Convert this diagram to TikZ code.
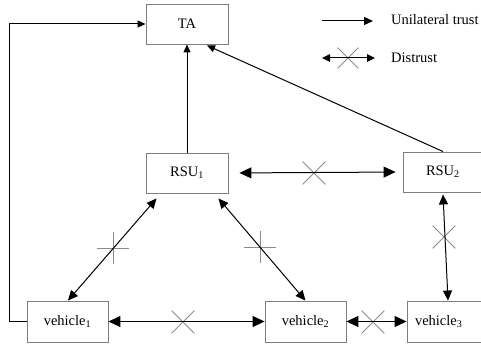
\documentclass[tikz,border=0pt]{standalone}
\usepackage{fontspec}
\setmainfont{Liberation Serif}
\usetikzlibrary{arrows.meta,shapes.misc,calc}
\definecolor{boxgray}{RGB}{125,125,125}
\definecolor{markgray}{RGB}{140,140,140}
\begin{document}
\begin{tikzpicture}[x=1pt,y=-1pt,
  lbl/.style={font=\fontsize{14.5}{17}\selectfont},
  box/.style={lbl, draw=boxgray, line width=0.9pt, minimum width=82pt,
    minimum height=40pt, inner sep=0pt},
  trust/.style={line width=1pt, -{Triangle[length=8pt,width=7pt]}},
  both/.style={line width=1pt, {Triangle[length=12pt,width=11pt]}-{Triangle[length=12pt,width=11pt]}},
  bothsm/.style={line width=1pt, {Triangle[length=8pt,width=7.5pt]}-{Triangle[length=8pt,width=7.5pt]}},
  xmark/.style={cross out, draw=markgray, line width=0.8pt, minimum size=22pt, inner sep=0pt},
  pmark/.style={xmark, rotate=45}]
\useasboundingbox (0,0) rectangle (481,347);
\clip (0,0) rectangle (481,347);

% entities
\node[box] (ta) at (187,24) {TA};
\node[box] (rsu1) at (187,173) {RSU\textsubscript{1}};
\node[box, minimum width=80pt, text width=34pt, inner xsep=23pt, align=left] (rsu2) at (443,172) {RSU\textsubscript{2}};
\node[box, minimum width=81pt, minimum height=41pt] (v1) at (67.5,321.5) {vehicle\textsubscript{1}};
\node[box, minimum width=81pt, minimum height=41pt] (v2) at (305.5,321.5) {vehicle\textsubscript{2}};
\node[box, minimum width=81pt, minimum height=41pt, text width=65pt, inner xsep=8pt, align=left] (v3) at (447.5,321.5) {vehicle\textsubscript{3}};

% distrust markers
\node[xmark] (x12) at (314,173) {};
\node[xmark] (x23) at (444,237) {};
\node[xmark] (xv12) at (183,322) {};
\node[xmark] (xv23) at (373,322) {};
\node[pmark] (p1) at (113,248) {};
\node[pmark] (p2) at (260,247) {};

% unilateral trust towards TA
\draw[trust] (v1.west) -- ++(-17,0) |- (ta.west);
\draw[trust] (rsu1.north) -- (ta.south);
\draw[trust] (rsu2.north) -- ($(ta.south)+(20,1)$);

% distrust links
\draw[both, shorten <=11pt, shorten >=7pt] (rsu1.east) -- (rsu2.west);
\draw[both, {Triangle[length=10pt,width=9pt]}-{Triangle[length=10pt,width=9pt]}] ($(v1.north)+(0.5,0)$) -- ($(rsu1.south west)+(11,5)$);
\draw[both, {Triangle[length=10pt,width=9pt]}-{Triangle[length=10pt,width=9pt]}] ($(v2.north)+(0,0)$) -- ($(rsu1.south east)+(-10,5)$);
\draw[both, {Triangle[length=10pt,width=9pt]}-{Triangle[length=10pt,width=9pt]}] ($(rsu2.south)+(0,2)$) -- ($(v3.north)+(0.5,0)$);
\draw[both] (v1.east) -- (v2.west);
\draw[both] (v2.east) -- (v3.west);

% legend
\coordinate (la1) at (322,21);
\coordinate (la2) at (373,21);
\coordinate (lb1) at (322,58);
\coordinate (lb2) at (375,58);
\draw[trust, -{Triangle[length=9pt,width=8pt]}] (la1) -- (la2);
\node[xmark, minimum size=20pt] (lx) at (348,58) {};
\draw[bothsm] (lb1) -- (lb2);
\node[lbl, anchor=west, inner sep=0pt] (lt1) at (391,20) {Unilateral trust};
\node[lbl, anchor=west, inner sep=0pt] (lt2) at (391,58) {Distrust};
\end{tikzpicture}
\end{document}
